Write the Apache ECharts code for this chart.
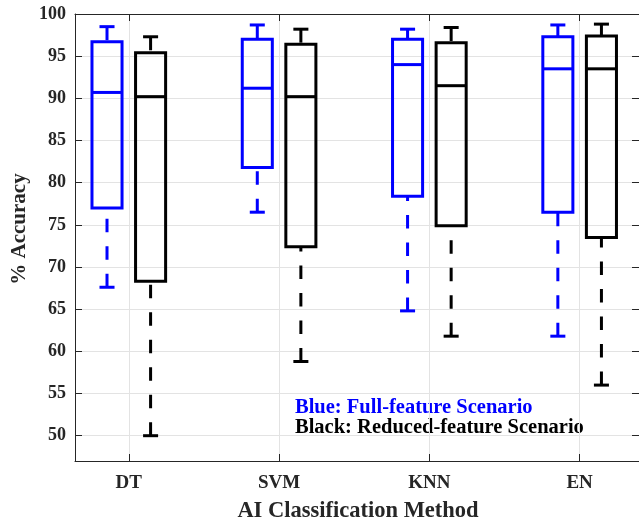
<!DOCTYPE html>
<html>
<head>
<meta charset="utf-8">
<script src="https://cdn.jsdelivr.net/npm/echarts@6/dist/echarts.min.js"></script>
<style>
  html, body { margin: 0; padding: 0; background: #fff; }
  #chart { width: 639px; height: 521px; }
</style>
</head>
<body>
<div id="chart"></div>
<script>
// ---- data ----
const categories = ['DT', 'SVM', 'KNN', 'EN'];
const yTicks = [50, 55, 60, 65, 70, 75, 80, 85, 90, 95, 100];

// Blue: full-feature scenario
const fullMin = [67.6, 76.5, 64.8, 61.8];
const fullQ1  = [77.0, 81.8, 78.4, 76.5];
const fullMed = [90.7, 91.2, 94.0, 93.5];
const fullQ3  = [96.7, 97.0, 97.0, 97.3];
const fullMax = [98.5, 98.7, 98.2, 98.7];

// Black: reduced-feature scenario
const redMin = [50.0, 58.8, 61.8, 56.0];
const redQ1  = [68.3, 72.4, 74.9, 73.5];
const redMed = [90.2, 90.2, 91.5, 93.5];
const redQ3  = [95.4, 96.4, 96.6, 97.4];
const redMax = [97.3, 98.2, 98.4, 98.8];

const catPos = categories.map((c, i) => i + 1);

function rows(mn, q1, md, q3, mx) {
  return categories.map((c, i) => [catPos[i], mn[i], q1[i], md[i], q3[i], mx[i]]);
}

const FONT = "'Liberation Serif', 'Times New Roman', serif";
const AXC = '#262626';

function makeRender(color, offset) {
  return function (params, api) {
    const x = api.value(0) + offset;
    const lo = api.value(1), q1 = api.value(2), md = api.value(3), q3 = api.value(4), hi = api.value(5);
    const hb = 0.1, hc = 0.05;
    const tl = api.coord([x - hb, q3]);
    const br = api.coord([x + hb, q1]);
    const mL = api.coord([x - hb, md]);
    const mR = api.coord([x + hb, md]);
    const cx = api.coord([x, 0])[0];
    const yLo = api.coord([x, lo])[1], yQ1 = api.coord([x, q1])[1];
    const yQ3 = api.coord([x, q3])[1], yHi = api.coord([x, hi])[1];
    const cL = api.coord([x - hc, lo])[0], cR = api.coord([x + hc, lo])[0];
    const solid = { stroke: color, lineWidth: 3, fill: null };
    const dashed = { stroke: color, lineWidth: 3, lineDash: [13.5, 14], fill: null };
    return {
      type: 'group',
      children: [
        { type: 'line', shape: { x1: cx, y1: yLo, x2: cx, y2: yQ1 }, style: dashed },
        { type: 'line', shape: { x1: cx, y1: yHi, x2: cx, y2: yQ3 }, style: dashed },
        { type: 'line', shape: { x1: cL, y1: yLo, x2: cR, y2: yLo }, style: solid },
        { type: 'line', shape: { x1: cL, y1: yHi, x2: cR, y2: yHi }, style: solid },
        { type: 'rect', shape: { x: tl[0], y: tl[1], width: br[0] - tl[0], height: br[1] - tl[1] }, style: solid },
        { type: 'line', shape: { x1: mL[0], y1: mL[1], x2: mR[0], y2: mR[1] }, style: solid }
      ]
    };
  };
}

const chart = echarts.init(document.getElementById('chart'), null, { renderer: 'canvas' });

const gridLine = { show: true, lineStyle: { color: '#e3e3e3', width: 1 } };

chart.setOption({
  animation: false,
  backgroundColor: '#ffffff',
  grid: { left: 75, right: -3, top: 14, bottom: 60, containLabel: false },
  xAxis: [
    {
      type: 'value', position: 'bottom', min: 0.642, max: 4.395,
      axisLine: { show: true, lineStyle: { color: AXC, width: 1 } },
      axisTick: { show: true, inside: true, length: 7, customValues: catPos, lineStyle: { color: AXC } },
      axisLabel: {
        show: true, customValues: catPos, margin: 13,
        formatter: v => categories[Math.round(v) - 1] || '',
        color: AXC, fontFamily: FONT, fontWeight: 'bold', fontSize: 19
      },
      splitLine: gridLine
    },
    {
      type: 'value', position: 'top', min: 0.642, max: 4.395,
      axisLine: { show: true, onZero: false, lineStyle: { color: AXC, width: 1 } },
      axisTick: { show: true, inside: true, length: 7, customValues: catPos, lineStyle: { color: AXC } },
      axisLabel: { show: false },
      splitLine: { show: false }
    }
  ],
  yAxis: [
    {
      type: 'value', position: 'left', min: 47, max: 100,
      axisLine: { show: true, lineStyle: { color: AXC, width: 1 } },
      axisTick: { show: true, inside: true, length: 7, customValues: yTicks, lineStyle: { color: AXC } },
      axisLabel: {
        show: true, customValues: yTicks, margin: 9,
        color: AXC, fontFamily: FONT, fontWeight: 'bold', fontSize: 18
      },
      splitLine: gridLine
    },
    {
      type: 'value', position: 'right', min: 47, max: 100,
      axisLine: { show: true, onZero: false, lineStyle: { color: AXC, width: 1 } },
      axisTick: { show: true, inside: true, length: 7, customValues: yTicks, lineStyle: { color: AXC } },
      axisLabel: { show: false },
      splitLine: { show: false }
    }
  ],
  graphic: [
    {
      type: 'text', x: 20, y: 229, rotation: Math.PI / 2,
      style: { text: '% Accuracy', fill: AXC, font: "bold 21px 'Liberation Serif'", textAlign: 'center', textVerticalAlign: 'middle' }
    },
    {
      type: 'text', x: 358, y: 511,
      style: { text: 'AI Classification Method', fill: AXC, font: "bold 22.5px 'Liberation Serif'", textAlign: 'center', textVerticalAlign: 'middle' }
    },
    {
      type: 'text', x: 295, y: 408,
      style: { text: 'Blue: Full-feature Scenario', fill: '#0000ff', font: "bold 20.5px 'Liberation Serif'", textAlign: 'left', textVerticalAlign: 'middle' }
    },
    {
      type: 'text', x: 295, y: 428,
      style: { text: 'Black: Reduced-feature Scenario', fill: '#000000', font: "bold 20.5px 'Liberation Serif'", textAlign: 'left', textVerticalAlign: 'middle' }
    }
  ],
  series: [
    {
      name: 'Full-feature', type: 'custom', xAxisIndex: 0, yAxisIndex: 0,
      renderItem: makeRender('#0000ff', -0.145),
      encode: { x: 0, y: [1, 2, 3, 4, 5] },
      data: rows(fullMin, fullQ1, fullMed, fullQ3, fullMax), z: 5
    },
    {
      name: 'Reduced-feature', type: 'custom', xAxisIndex: 0, yAxisIndex: 0,
      renderItem: makeRender('#000000', 0.145),
      encode: { x: 0, y: [1, 2, 3, 4, 5] },
      data: rows(redMin, redQ1, redMed, redQ3, redMax), z: 5
    }
  ]
});
</script>
</body>
</html>
